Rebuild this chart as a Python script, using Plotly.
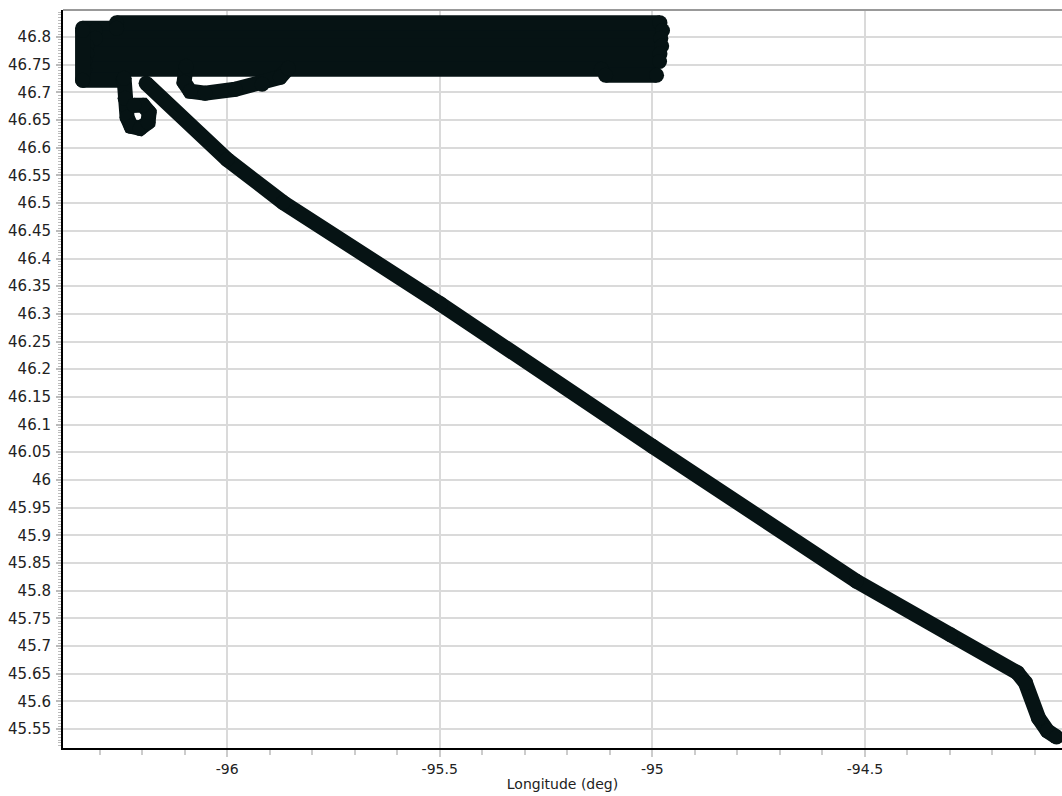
import plotly.graph_objects as go

# ---- data (longitude, latitude in degrees) ----
# survey block: straight passes (latitude, west end, east end)
pass_lat = [46.826, 46.816, 46.812, 46.798, 46.784, 46.770, 46.756, 46.742, 46.731, 46.722]
pass_west = [-96.260, -96.340, -96.310, -96.310, -96.330, -96.330, -96.335, -96.335, -95.110, -96.340]
pass_east = [-94.982, -96.260, -94.976, -94.980, -94.978, -94.982, -94.983, -95.120, -94.990, -96.245]

# western edge of the survey block (vertical leg)
edge_lon = [-96.340, -96.340]
edge_lat = [46.722, 46.812]

loop_lon = [-96.2424, -96.2400, -96.2353, -96.2259, -96.2047, -96.1859, -96.1835, -96.1976, -96.2188]
loop_lat = [46.7257, 46.6895, 46.6551, 46.6388, 46.6351, 46.6460, 46.6641, 46.6768, 46.6768]

hook_lon = [-96.0965, -96.1012, -96.0871, -96.0518, -95.9812, -95.9176, -95.8753, -95.8565]
hook_lat = [46.7475, 46.7185, 46.7022, 46.6986, 46.7058, 46.7149, 46.7275, 46.7438]

transit_lon = [-96.1906, -96.0000, -95.8682, -95.4988, -95.0000, -94.5200,
               -94.2988, -94.1412, -94.1224, -94.0918, -94.0706, -94.0494]
transit_lat = [46.7167, 46.5790, 46.5011, 46.3181, 46.0609, 45.8170,
               45.7203, 45.6514, 45.6333, 45.5699, 45.5464, 45.5355]

x_tick_vals = [-96, -95.5, -95, -94.5]
x_tick_text = ["-96", "-95.5", "-95", "-94.5"]

# build the survey passes as separate segments (None breaks the line)
survey_x, survey_y = [], []
for la, w, e in zip(pass_lat, pass_west, pass_east):
    survey_x += [w, e, None]
    survey_y += [la, la, None]

segments = [
    (survey_x, survey_y),
    (edge_lon, edge_lat),
    (loop_lon, loop_lat),
    (hook_lon, hook_lat),
    (transit_lon, transit_lat),
]

track_color = "#061314"
fig = go.Figure()
for lon, lat in segments:
    fig.add_trace(go.Scatter(
        x=lon, y=lat, mode="lines+markers",
        line=dict(color=track_color, width=15),
        marker=dict(symbol="circle", size=15, color=track_color, line=dict(width=0)),
        connectgaps=False,
        showlegend=False, hoverinfo="x+y",
    ))

font_main = "DejaVu Sans, Verdana, sans-serif"
fig.update_layout(
    width=1062, height=796,
    margin=dict(l=63, r=0, t=10, b=48, autoexpand=False),
    paper_bgcolor="white", plot_bgcolor="white",
    font=dict(family=font_main, size=14, color="#222222"),
    showlegend=False,
    xaxis=dict(
        range=[-96.386, -94.0365],
        tickmode="array", tickvals=x_tick_vals, ticktext=x_tick_text,
        showgrid=True, gridcolor="#dadada", gridwidth=1.5,
        zeroline=False,
        showline=True, linecolor="black", linewidth=2,
        ticks="outside", ticklen=7, tickcolor="#cccccc", tickwidth=1.5,
        minor=dict(dtick=0.1, tick0=0, ticks="outside", ticklen=5, tickcolor="#cccccc",
                   tickwidth=1.5, showgrid=False),
        ticklabelstandoff=0,
        automargin=False,
        tickfont=dict(size=14, color="#222222"),
        title=dict(text="Longitude (deg)", font=dict(size=14, color="#222222"), standoff=3),
    ),
    yaxis=dict(
        range=[45.5156, 46.849],
        dtick=0.05, tick0=0,
        showgrid=True, gridcolor="#dadada", gridwidth=1.5,
        zeroline=False,
        showline=True, linecolor="black", linewidth=2,
        ticks="outside", ticklen=5, tickcolor="#bbbbbb", tickwidth=1.5,
        minor=dict(dtick=0.005, tick0=0, ticks="outside", ticklen=3, tickcolor="#bbbbbb",
                   tickwidth=1, showgrid=False),
        ticklabelstandoff=2,
        automargin=False,
        tickfont=dict(size=15, color="#222222"),
    ),
    shapes=[dict(type="line", xref="paper", yref="paper", x0=0, x1=1, y0=1, y1=1,
                 line=dict(color="#999999", width=2))],
)

fig.write_html(
    "out.html",
    config={"displayModeBar": False},
    post_script="document.body.style.margin='0';document.body.style.overflow='hidden';",
)
